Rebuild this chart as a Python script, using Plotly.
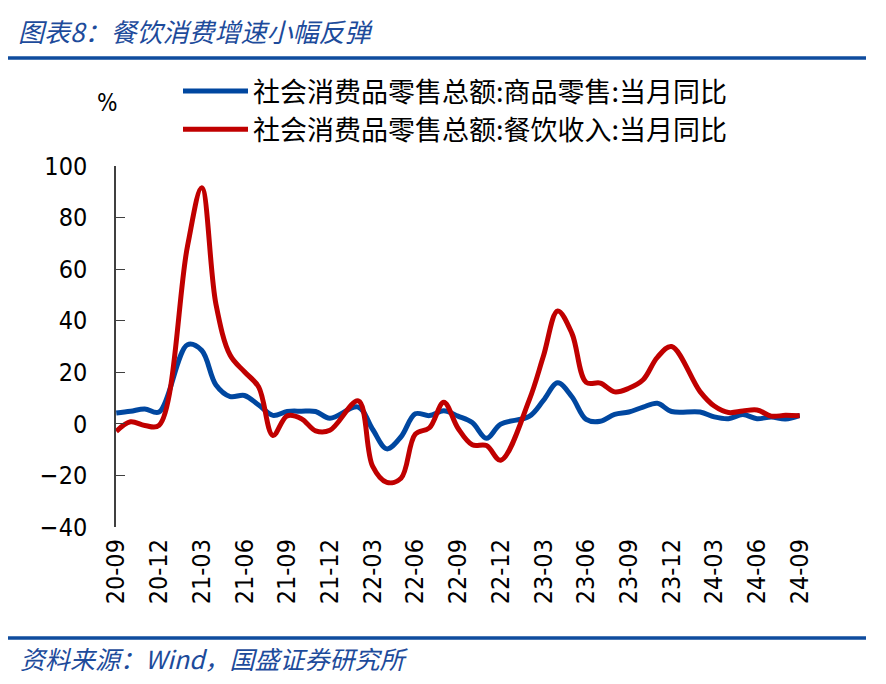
import plotly.graph_objects as go

# ---------------- data ----------------
months = ["20-09", "20-10", "20-11", "20-12",
          "21-01", "21-02", "21-03", "21-04", "21-05", "21-06", "21-07", "21-08", "21-09", "21-10", "21-11", "21-12",
          "22-01", "22-02", "22-03", "22-04", "22-05", "22-06", "22-07", "22-08", "22-09", "22-10", "22-11", "22-12",
          "23-01", "23-02", "23-03", "23-04", "23-05", "23-06", "23-07", "23-08", "23-09", "23-10", "23-11", "23-12",
          "24-01", "24-02", "24-03", "24-04", "24-05", "24-06", "24-07", "24-08", "24-09"]

goods_retail = [4.2, 4.9, 5.8, 4.6,
                None, 30.7, 28.5, 15.1, 10.6, 11.0, 7.3, 3.3, 4.8, 4.9, 4.8, 2.2,
                None, 6.5, -2.1, -9.7, -5.0, 3.9, 3.2, 5.1, 3.0, 0.5, -5.6, -0.1,
                None, 2.9, 9.1, 15.9, 10.5, 1.7, 1.0, 3.7, 4.6, 6.5, 8.0, 4.8,
                None, 4.6, 2.7, 2.0, 3.6, 2.0, 2.7, 1.9, 3.3]

catering = [-2.9, 0.8, -0.6, -0.6,
            None, 68.9, 91.6, 46.4, 26.6, 20.2, 14.3, -4.5, 3.1, 2.0, -2.7, -2.5,
            None, 8.9, -16.4, -22.7, -21.1, -4.0, -1.5, 8.4, -1.7, -8.1, -8.4, -14.1,
            None, 9.2, 26.3, 43.8, 35.1, 16.1, 15.8, 12.4, 13.8, 17.1, 25.8, 30.0,
            None, 12.5, 6.9, 4.4, 5.0, 5.4, 3.0, 3.3, 3.1]

tick_labels = months[::3]
tick_index = list(range(0, len(months), 3))

name_goods = "社会消费品零售总额:商品零售:当月同比"
name_catering = "社会消费品零售总额:餐饮收入:当月同比"
title_text = "图表8：餐饮消费增速小幅反弹"
source_text = "资料来源：Wind，国盛证券研究所"

y_min, y_max = -40, 100

# ---------------- layout helpers (screen pixels; page body has an 8px margin) ----------------
OFF = 8
W, H = 886 - 2 * OFF, 684 - 2 * OFF
L, R, T, B = 116, 800, 166, 527  # plot area in screen pixels


def px(x):
    return (x - L) / (R - L)


def py(y):
    return (B - y) / (B - T)


def cx(x):
    return (x - OFF) / W


def cy(y):
    return 1 - (y - OFF) / H


BLUE = "#0047A0"
RED = "#C00000"
RULE = "#0F4C9E"
TXT_BLUE = "#1D4B9B"
NUM_FONT = "DejaVu Sans Condensed, DejaVu Sans, sans-serif"
CJK_FONT = "Noto Sans CJK SC, sans-serif"

fig = go.Figure()
fig.add_trace(go.Scatter(x=months, y=goods_retail, name=name_goods, mode="lines",
                         line=dict(color=BLUE, width=5, shape="spline", smoothing=1),
                         connectgaps=True))
fig.add_trace(go.Scatter(x=months, y=catering, name=name_catering, mode="lines",
                         line=dict(color=RED, width=5, shape="spline", smoothing=1),
                         connectgaps=True))

fig.update_layout(
    width=W, height=H,
    margin=dict(l=L - OFF, r=(W + OFF) - R, t=T - OFF, b=(H + OFF) - B, pad=0, autoexpand=False),
    paper_bgcolor="white", plot_bgcolor="white",
    showlegend=True,
    legend=dict(xref="container", yref="container", x=cx(178), y=cy(67),
                xanchor="left", yanchor="top",
                font=dict(family=CJK_FONT, size=27, color="black"),
                itemwidth=65, bgcolor="rgba(0,0,0,0)", tracegroupgap=0),
    xaxis=dict(type="category", categoryorder="array", categoryarray=months,
               range=[-0.02, len(months) - 1 + 0.02], automargin=False,
               tickmode="array", tickvals=tick_labels, ticktext=tick_labels,
               tickangle=-90, ticks="", showline=False, showgrid=False, zeroline=False,
               tickfont=dict(family=NUM_FONT, size=25, color="black"),
               ticklabelstandoff=6),
    xaxis2=dict(overlaying="x", anchor="free", automargin=False,
                position=(0 - y_min) / (y_max - y_min),
                range=[-0.02, len(months) - 1 + 0.02],
                tickmode="array", tickvals=tick_index,
                showticklabels=False, ticks="inside", ticklen=9, tickwidth=1.2,
                tickcolor="#404040", showline=True, linecolor="#404040", linewidth=1.5,
                showgrid=False, zeroline=False),
    yaxis=dict(range=[y_min, y_max], dtick=20, tick0=0, ticks="inside", ticklen=9,
               automargin=False,
               tickwidth=1.2, tickcolor="#404040", showline=True, linecolor="#404040",
               linewidth=1.5, showgrid=False, zeroline=False,
               tickfont=dict(family=NUM_FONT, size=25, color="black"),
               ticklabelstandoff=22),
)

fig.add_annotation(text="%", x=px(107), y=py(103), xref="paper", yref="paper",
                   showarrow=False, xanchor="center", yanchor="middle",
                   font=dict(family=NUM_FONT, size=24, color="black"))
fig.add_annotation(text=title_text, x=px(16), y=py(30), xref="paper", yref="paper",
                   showarrow=False, xanchor="left", yanchor="middle",
                   font=dict(family=CJK_FONT, size=26, color=TXT_BLUE, style="italic"))
fig.add_annotation(text=source_text, x=px(18), y=py(658), xref="paper", yref="paper",
                   showarrow=False, xanchor="left", yanchor="middle",
                   font=dict(family=CJK_FONT, size=25, color=TXT_BLUE, style="italic"))

for yy in (58, 638):
    fig.add_shape(type="line", xref="paper", yref="paper",
                  x0=px(0), x1=px(866), y0=py(yy), y1=py(yy),
                  line=dict(color=RULE, width=3.5))

fig.write_html("out.html")
